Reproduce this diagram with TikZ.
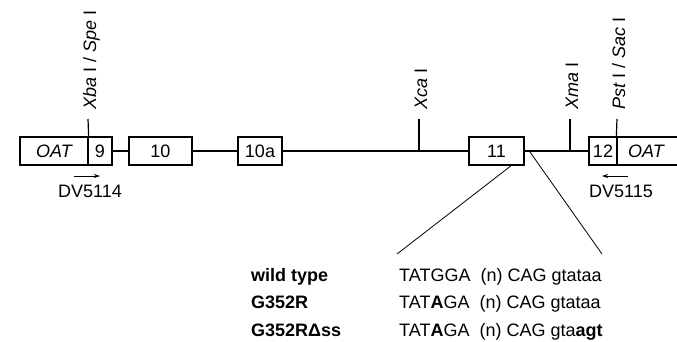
\documentclass[tikz,border=0pt]{standalone}
\usepackage{fontspec}
\setmainfont{Liberation Sans}
\usetikzlibrary{arrows.meta}
\begin{document}
\begin{tikzpicture}[x=1pt,y=-1pt,
  every node/.style={font=\fontsize{18}{20}\selectfont, inner sep=0pt},
  exon/.style={draw, line width=1.3pt, fill=white, minimum height=28pt},
  intron/.style={line width=2.4pt},
  tick/.style={line width=1.2pt},
  sitelabel/.style={rotate=90, anchor=base west},
  zoomline/.style={line width=0.8pt},
  primer/.style={line width=0.9pt, -{Stealth[length=6pt,width=4pt]}},
  rowlabel/.style={anchor=base west, font=\fontsize{18}{20}\selectfont\bfseries},
  seq/.style={anchor=base west}
]
\useasboundingbox (0,0) rectangle (677,341);

% intron backbone, drawn first so the exon boxes sit on top
\coordinate (lineL) at (112,151);
\coordinate (lineR) at (589,151);
\draw[intron] (lineL) -- (lineR);

% exons
\node[exon, minimum width=68pt] (oatL) at (54,151) {\itshape OAT};
\node[exon, minimum width=24pt] (e9) at (100,151) {9};
\node[exon, minimum width=63pt] (e10) at (160.5,151) {10};
\node[exon, minimum width=44pt] (e10a) at (260,151) {10a};
\node[exon, minimum width=55pt] (e11) at (496.5,151) {11};
\node[exon, minimum width=28pt] (e12) at (603,151) {12};
\node[exon, minimum width=68pt, text width=68pt, align=center] (oatR) at (651,151) {\hspace*{-10pt}\itshape OAT};

% restriction sites
\coordinate (xba) at (88,119);
\coordinate (xcaB) at (419,151);
\coordinate (xca) at (419,119);
\coordinate (xmaB) at (570,151);
\coordinate (xma) at (570,119);
\coordinate (pst) at (617,119);
\draw[tick] (oatL.north east) -- (xba);
\draw[tick] (xcaB) -- (xca);
\draw[tick] (xmaB) -- (xma);
\draw[tick] (oatR.north west) -- (pst);

\node[sitelabel] (lxba) at (96,110) {\itshape Xba\upshape\ I / \itshape Spe\upshape\ I};
\node[sitelabel] (lxca) at (427,110) {\itshape Xca\upshape\ I};
\node[sitelabel] (lxma) at (578,110) {\itshape Xma\upshape\ I};
\node[sitelabel] (lpst) at (625,110) {\itshape Pst\upshape\ I / \itshape Sac\upshape\ I};

% primers
\coordinate (p1a) at (74,176);
\coordinate (p1b) at (100,176);
\coordinate (p2a) at (628,176);
\coordinate (p2b) at (602,176);
\draw[primer] (p1a) -- (p1b);
\draw[primer] (p2a) -- (p2b);
\node[anchor=base] (dv1) at (90,197) {DV5114};
\node[anchor=base] (dv2) at (621,197) {DV5115};

% enlargement of the exon 11 region
\coordinate (zL) at (512,165);
\coordinate (zR) at (530,152);
\coordinate (zLb) at (397,254);
\coordinate (zRb) at (602,254);
\draw[zoomline] (zL) -- (zLb);
\draw[zoomline] (zR) -- (zRb);

% sequences
\node[rowlabel] (r1) at (251,281) {wild type};
\node[rowlabel] (r2) at (251,308.5) {G352R};
\node[rowlabel] (r3) at (251,336) {G352RΔss};
\node[seq] (s1) at (399,281) {TATGGA\ \ (n) CAG gtataa};
\node[seq] (s2) at (399,308.5) {TAT\textbf{A}GA\ \ (n) CAG gtataa};
\node[seq] (s3) at (399,336) {TAT\textbf{A}GA\ \ (n) CAG gta\textbf{agt}};
\end{tikzpicture}
\end{document}
